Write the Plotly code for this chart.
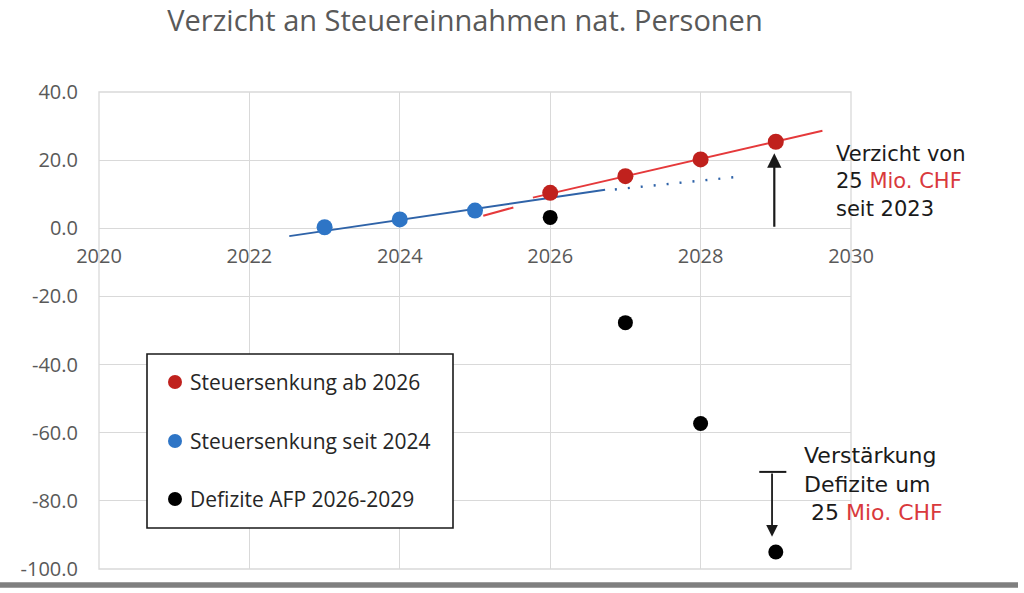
import plotly.graph_objects as go

# ---- data ----
years_red = [2026, 2027, 2028, 2029]
red_vals = [10.4, 15.3, 20.2, 25.4]
years_blue = [2023, 2024, 2025]
blue_vals = [0.3, 2.6, 5.2]
years_black = [2026, 2027, 2028, 2029]
black_vals = [3.2, -27.7, -57.3, -95.0]

blue_trend_x = [2022.53, 2026.73]
blue_trend_y = [-2.3, 11.3]
blue_dot_x = [2026.86, 2028.45]
blue_dot_y = [11.4, 15.0]
red_trend_x = [2025.11, 2025.51, None, 2025.77, 2029.62]
red_trend_y = [3.7, 6.1, None, 9.0, 28.6]

x_ticks = [2020, 2022, 2024, 2026, 2028, 2030]
x_tick_labels = ["2020", "2022", "2024", "2026", "2028", "2030"]
y_ticks = [40, 20, 0, -20, -40, -60, -80, -100]
y_tick_labels = ["40.0", "20.0", "0.0", "-20.0", "-40.0", "-60.0", "-80.0", "-100.0"]

legend_names = ["Steuersenkung ab 2026", "Steuersenkung seit 2024", "Defizite AFP 2026-2029"]

RED = "#C0211D"
RED_LINE = "#E5393B"
BLUE = "#2E75C6"
BLUE_LINE = "#2F63A8"
BLACK = "#000000"
GRID = "#D9D9D9"
TXT = "#595959"
HAND_RED = "#D9393C"

# plot area in pixels
L, R, T, B = 99, 851, 92, 569
W, H = 1024, 593


def px(xp):
    return (xp - L) / (R - L)


def py(yp):
    return (B - yp) / (B - T)


fig = go.Figure()

fig.add_trace(go.Scatter(x=blue_trend_x, y=blue_trend_y, mode="lines",
                         line=dict(color=BLUE_LINE, width=2), showlegend=False, hoverinfo="skip"))
fig.add_trace(go.Scatter(x=blue_dot_x, y=blue_dot_y, mode="lines",
                         line=dict(color=BLUE_LINE, width=2.4, dash="2px,11px"),
                         showlegend=False, hoverinfo="skip"))
fig.add_trace(go.Scatter(x=red_trend_x, y=red_trend_y, mode="lines", connectgaps=False,
                         line=dict(color=RED_LINE, width=2), showlegend=False, hoverinfo="skip"))

fig.add_trace(go.Scatter(x=years_red, y=red_vals, mode="markers", name=legend_names[0],
                         marker=dict(color=RED, size=16), showlegend=False))
fig.add_trace(go.Scatter(x=years_blue, y=blue_vals, mode="markers", name=legend_names[1],
                         marker=dict(color=BLUE, size=16), showlegend=False))
fig.add_trace(go.Scatter(x=years_black, y=black_vals, mode="markers", name=legend_names[2],
                         marker=dict(color=BLACK, size=15), showlegend=False))

shapes = []
# plot border
shapes.append(dict(type="rect", xref="paper", yref="paper", x0=0, x1=1, y0=0, y1=1,
                   line=dict(color=GRID, width=1.3), layer="below"))
# legend box
shapes.append(dict(type="rect", xref="paper", yref="paper", x0=px(147), x1=px(453),
                   y0=py(528), y1=py(354), line=dict(color="#1a1a1a", width=1.6),
                   fillcolor="white", layer="above"))
leg_y = [382, 441, 499]
leg_col = [RED, BLUE, BLACK]
annotations = []
for name, yy, c in zip(legend_names, leg_y, leg_col):
    shapes.append(dict(type="circle", xref="paper", yref="paper", xsizemode="pixel",
                       ysizemode="pixel", xanchor=px(175), yanchor=py(yy),
                       x0=-7, x1=7, y0=-7, y1=7, fillcolor=c, line=dict(color=c, width=0),
                       layer="above"))
    annotations.append(dict(xref="paper", yref="paper", x=px(188), y=py(yy),
                            xanchor="left", yanchor="middle", showarrow=False, text=name,
                            font=dict(family="Open Sans", size=21, color="#262626")))

# bottom separator line
shapes.append(dict(type="line", xref="paper", yref="paper", x0=px(0), x1=px(1018),
                   y0=py(585), y1=py(585), line=dict(color="#7F7F7F", width=5.5)))

# T bar of second arrow
shapes.append(dict(type="line", xref="x", yref="y", x0=2028.78, x1=2029.14,
                   y0=-71.5, y1=-71.5, line=dict(color="#1a1a1a", width=2)))

# arrows
annotations.append(dict(x=2028.98, y=22.0, ax=2028.98, ay=0, xref="x", yref="y",
                        axref="x", ayref="y", showarrow=True, arrowhead=2, arrowsize=1.3,
                        arrowwidth=2.2, arrowcolor="#1a1a1a", text=""))
annotations.append(dict(x=2028.95, y=-90.5, ax=2028.95, ay=-71.5, xref="x", yref="y",
                        axref="x", ayref="y", showarrow=True, arrowhead=2, arrowsize=1.3,
                        arrowwidth=1.8, arrowcolor="#1a1a1a", text=""))

mio = "<span style='color:%s'>Mio. CHF</span>" % HAND_RED
annotations.append(dict(xref="paper", yref="paper", x=px(834), y=py(181),
                        xanchor="left", yanchor="middle", align="left", showarrow=False,
                        text="Verzicht von<br>25 " + mio + "<br>seit 2023",
                        font=dict(family="DejaVu Sans", size=21, color="#1a1a1a")))
annotations.append(dict(xref="paper", yref="paper", x=px(802), y=py(484),
                        xanchor="left", yanchor="middle", align="left", showarrow=False,
                        text="Verstärkung<br>Defizite um<br> 25 " + mio,
                        font=dict(family="DejaVu Sans", size=22, color="#1a1a1a")))

fig.update_layout(
    width=W, height=H, autosize=False,
    margin=dict(l=L, r=W - R, t=T, b=H - B, pad=0),
    paper_bgcolor="white", plot_bgcolor="white",
    showlegend=False,
    title=dict(text="Verzicht an Steuereinnahmen nat. Personen", xref="container",
               yref="container", x=465 / W, y=1 - 21 / H, xanchor="center",
               yanchor="middle", font=dict(family="Open Sans", size=29, color=TXT)),
    xaxis=dict(range=[2020, 2030], tickvals=x_ticks, ticktext=x_tick_labels,
               showgrid=True, gridcolor=GRID, gridwidth=1.3, zeroline=False,
               showline=False, ticks="", anchor="free", position=100 / 140,
               ticklabelstandoff=14,
               tickfont=dict(family="Open Sans", size=20, color=TXT)),
    yaxis=dict(range=[-100, 40], tickvals=y_ticks, ticktext=y_tick_labels,
               showgrid=True, gridcolor=GRID, gridwidth=1.3, zeroline=True,
               zerolinecolor=GRID, zerolinewidth=1.3, showline=False, ticks="",
               ticklabelstandoff=20,
               tickfont=dict(family="Open Sans", size=20, color=TXT)),
    shapes=shapes,
    annotations=annotations,
)

fig.write_html("out.html", config={"displayModeBar": False},
               post_script="document.body.style.margin='0';document.body.style.overflow='hidden';")
